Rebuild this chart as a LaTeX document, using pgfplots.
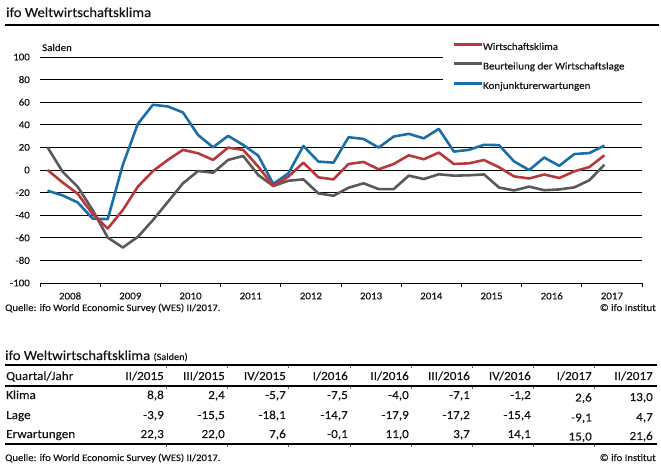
\documentclass[border=0pt]{standalone}
\usepackage{pgfplots}
\pgfplotsset{compat=1.18}
\usepackage{pgfplotstable}
\usepackage{fontspec}
\setmainfont{Carlito}[FakeStretch=1.07, FakeBold=0.3]
\definecolor{ifored}{RGB}{184,56,61}
\definecolor{ifogray}{RGB}{90,90,90}
\definecolor{ifoblue}{RGB}{27,111,166}
\definecolor{txt}{RGB}{20,20,20}

\pgfplotstableread{
x klima lage erw
2008.125 0 20.1 -18.3
2008.375 -11 -1.5 -22.5
2008.625 -21 -14.8 -28.7
2008.875 -39 -35.5 -43
2009.125 -51.8 -59.8 -43.5
2009.375 -35.5 -68.6 4.4
2009.625 -14.8 -59.2 40.8
2009.875 -1 -44.4 57.7
2010.125 9 -28.1 56.2
2010.375 17.8 -11.8 50.9
2010.625 14.8 -0.9 31
2010.875 8.9 -2.4 20.1
2011.125 19.8 8.9 30.2
2011.375 17.8 12.4 22.2
2011.625 3 -4.4 12.7
2011.875 -14.2 -14.2 -12.4
2012.125 -5.9 -9.5 -3
2012.375 6.5 -8.3 21.3
2012.625 -6.5 -20.7 7.4
2012.875 -8.3 -22.8 6.5
2013.125 5.3 -15.7 29
2013.375 7.1 -11.8 27.5
2013.625 0.6 -16.9 19.8
2013.875 5.3 -16.9 29.6
2014.125 13 -5 32
2014.375 9.5 -8 28
2014.625 15.4 -3.8 36.4
2014.875 5.3 -5 16.3
2015.125 5.9 -4.7 17.8
2015.375 8.8 -3.9 22.3
2015.625 2.4 -15.5 22.0
2015.875 -5.7 -18.1 7.6
2016.125 -7.5 -14.7 -0.1
2016.375 -4.0 -17.9 11.0
2016.625 -7.1 -17.2 3.7
2016.875 -1.2 -15.4 14.1
2017.125 2.6 -9.1 15.0
2017.375 13.0 4.7 21.6
}\data

\newcommand{\ft}[1]{\fontsize{#1bp}{#1bp}\selectfont}

\begin{document}
\begin{tikzpicture}[x=1bp,y=1bp]
\path[use as bounding box] (0,0) rectangle (661,468);
% chart title
\node[anchor=base west, inner sep=0pt, text=txt, font=\ft{13.8}] at (6,451) {ifo Weltwirtschaftsklima};
\draw[line width=1.3bp] (5,443) -- (659,443);

\begin{axis}[
  at={(40bp,185bp)}, anchor=south west,
  scale only axis, width=602bp, height=226bp,
  xmin=2008, xmax=2018, ymin=-100, ymax=100,
  clip=false,
  axis line style={draw=none},
  xtick={2008,2009,...,2018}, xticklabels={},
  xtick pos=bottom, xtick align=outside,
  major tick length=4bp,
  xtick style={black, line width=0.8bp},
  extra x ticks={2008.5,2009.5,2010.5,2011.5,2012.5,2013.5,2014.5,2015.5,2016.5,2017.5},
  extra x tick labels={2008,2009,2010,2011,2012,2013,2014,2015,2016,2017},
  extra x tick style={major tick length=0pt, xticklabel style={anchor=center, yshift=-13bp}},
  xticklabel style={font=\ft{10.2}, text=txt},
  ytick={-100,-80,...,100},
  yticklabels={-100,-80,-60,-40,-20,0,20,40,60,80,100},
  ytick pos=left,
  ytick style={draw=none},
  yticklabel style={anchor=east, inner sep=0pt, xshift=-10bp, font=\ft{10.2}, text=txt},
  legend cell align=left,
  legend style={at={(rel axis cs:0.6844,1.062)}, anchor=north west, draw=none, fill=none,
    inner sep=0pt, outer sep=0pt, row sep=10.5bp, font=\ft{10.3}, text=txt,
    nodes={inner sep=0pt, text height=7bp, text depth=2bp},
    /tikz/every even column/.append style={column sep=4bp}},
  legend image code/.code={\draw[#1, line width=3bp] (0bp,3bp) -- (28bp,3bp);},
]
% grid lines
\draw[line width=0.9bp] (axis cs:2008,-100) -- (axis cs:2018,-100);
\draw[line width=0.9bp] (axis cs:2008,-80) -- (axis cs:2018,-80);
\draw[line width=0.9bp] (axis cs:2008,-60) -- (axis cs:2018,-60);
\draw[line width=0.9bp] (axis cs:2008,-40) -- (axis cs:2018,-40);
\draw[line width=0.9bp] (axis cs:2008,-20) -- (axis cs:2018,-20);
\draw[line width=0.9bp] (axis cs:2008,0) -- (axis cs:2018,0);
\draw[line width=0.9bp] (axis cs:2008,20) -- (axis cs:2018,20);
\draw[line width=0.9bp] (axis cs:2008,40) -- (axis cs:2018,40);
\draw[line width=0.9bp] (axis cs:2008,60) -- (axis cs:2018,60);
\draw[line width=0.9bp] (axis cs:2008,80) -- (axis cs:2014.69,80);
\draw[line width=0.9bp] (axis cs:2008,100) -- (axis cs:2014.69,100);

\addlegendimage{ifored}
\addlegendentry{Wirtschaftsklima}
\addlegendimage{ifogray}
\addlegendentry{Beurteilung der Wirtschaftslage}
\addlegendimage{ifoblue}
\addlegendentry{Konjunkturerwartungen}

\addplot[forget plot, ifogray, line width=2.6bp, line join=round] table[x=x,y=lage]{\data};
\addplot[forget plot, ifoblue, line width=2.6bp, line join=round] table[x=x,y=erw]{\data};
\addplot[forget plot, ifored, line width=2.6bp, line join=round] table[x=x,y=klima]{\data};
\end{axis}

\node[anchor=base west, inner sep=0pt, text=txt, font=\ft{10.2}] at (42,417) {Salden};
\node[anchor=base west, inner sep=0pt, text=txt, font=\ft{10}] at (5,157) {Quelle: ifo World Economic Survey (WES) II/2017.};
\node[anchor=base east, inner sep=0pt, text=txt, font=\ft{10}] at (656,157) {© ifo Institut};

% table
\node[anchor=base west, inner sep=0pt, text=txt, font=\ft{13.8}] at (5,108) {ifo Weltwirtschaftsklima {\ft{9.6}(Salden)}};
\draw[line width=1.5bp] (5,103) -- (657,103);
\draw[line width=1.1bp] (5,82) -- (657,82);
\draw[line width=1.5bp] (5,24) -- (657,24);
\foreach \x in {166,227,288,350,411,472,533,594}{
  \draw[line width=0.5bp, black!60] (\x,102) -- (\x,100);
  \draw[line width=0.5bp, black!60] (\x,81) -- (\x,79);
  \draw[line width=0.5bp, black!60] (\x,23) -- (\x,21);
}
\begin{scope}[every node/.style={inner sep=0pt, text=txt, font=\ft{12.3}}]
\node[anchor=base west] at (6,88) {Quartal/Jahr};
\node[anchor=base west] at (6,69) {Klima};
\node[anchor=base west] at (6,49) {Lage};
\node[anchor=base west] at (6,30) {Erwartungen};
\node[anchor=base east] at (164,88) {II/2015};
\node[anchor=base east] at (225,88) {III/2015};
\node[anchor=base east] at (286,88) {IV/2015};
\node[anchor=base east] at (348,88) {I/2016};
\node[anchor=base east] at (409,88) {II/2016};
\node[anchor=base east] at (470,88) {III/2016};
\node[anchor=base east] at (531,88) {IV/2016};
\node[anchor=base east] at (592,88) {I/2017};
\node[anchor=base east] at (653,88) {II/2017};
% Klima
\node[anchor=base east] at (164,69) {8,8};
\node[anchor=base east] at (225,69) {2,4};
\node[anchor=base east] at (286,69) {-5,7};
\node[anchor=base east] at (348,69) {-7,5};
\node[anchor=base east] at (409,69) {-4,0};
\node[anchor=base east] at (470,69) {-7,1};
\node[anchor=base east] at (531,69) {-1,2};
\node[anchor=base east] at (592,66.5) {2,6};
\node[anchor=base east] at (653,67) {13,0};
% Lage
\node[anchor=base east] at (164,49) {-3,9};
\node[anchor=base east] at (225,49) {-15,5};
\node[anchor=base east] at (286,49) {-18,1};
\node[anchor=base east] at (348,49) {-14,7};
\node[anchor=base east] at (409,49) {-17,9};
\node[anchor=base east] at (470,49) {-17,2};
\node[anchor=base east] at (531,49) {-15,4};
\node[anchor=base east] at (592,46.5) {-9,1};
\node[anchor=base east] at (653,47) {4,7};
% Erwartungen
\node[anchor=base east] at (164,30) {22,3};
\node[anchor=base east] at (225,30) {22,0};
\node[anchor=base east] at (286,30) {7,6};
\node[anchor=base east] at (348,30) {-0,1};
\node[anchor=base east] at (409,30) {11,0};
\node[anchor=base east] at (470,30) {3,7};
\node[anchor=base east] at (531,30) {14,1};
\node[anchor=base east] at (592,27.5) {15,0};
\node[anchor=base east] at (653,28) {21,6};
\end{scope}
\node[anchor=base west, inner sep=0pt, text=txt, font=\ft{10}] at (5,7) {Quelle: ifo World Economic Survey (WES) II/2017.};
\node[anchor=base east, inner sep=0pt, text=txt, font=\ft{10}] at (656,7) {© ifo Institut};
\end{tikzpicture}
\end{document}
